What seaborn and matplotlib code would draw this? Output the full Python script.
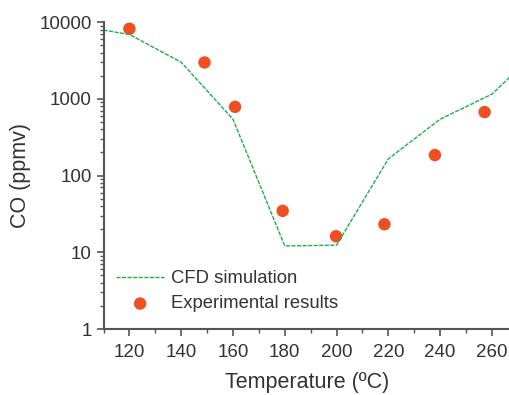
import matplotlib
matplotlib.use("Agg")
import matplotlib.pyplot as plt
import matplotlib.ticker as mticker
import numpy as np
import pandas as pd
import seaborn as sns

# CFD simulation (line)
sim_temp = [110, 120, 140, 160, 180, 200, 220, 240, 260, 270]
sim_co = [7870, 6900, 3000, 543, 12.1, 12.4, 165, 543, 1150, 2400]

# experimental results (points)
exp_temp = [120, 149, 160.8, 179.2, 199.8, 218.5, 238, 257.2]
exp_co = [8190, 2980, 787, 34.7, 16.2, 23.2, 185, 672]

sim = pd.DataFrame({"T": sim_temp, "CO": sim_co})
exp = pd.DataFrame({"T": exp_temp, "CO": exp_co})

sns.set_style("ticks")
plt.rcParams["font.family"] = ["Liberation Sans", "DejaVu Sans"]
txt = "#333333"
spine = "#555555"

fig = plt.figure(figsize=(5.1, 3.95), dpi=100)
ax = fig.add_axes([0.203, 0.167, 0.797, 0.777])

sns.lineplot(data=sim, x="T", y="CO", ax=ax, color="#1fae4b", lw=1.0,
             linestyle=(0, (3, 1)), label="CFD simulation")
sns.scatterplot(data=exp, x="T", y="CO", ax=ax, color="#f04e23", s=80,
                edgecolor="none", label="Experimental results")

ax.set_yscale("log")
ax.set_ylim(1, 10000)
ax.set_xlim(110, 267)
ax.set_xticks([120, 140, 160, 180, 200, 220, 240, 260])
ax.xaxis.set_minor_locator(mticker.MultipleLocator(10))
ax.yaxis.set_major_locator(mticker.LogLocator(base=10, numticks=10))
ax.yaxis.set_major_formatter(mticker.FuncFormatter(lambda v, p: f"{v:g}"))
ax.yaxis.set_minor_locator(mticker.LogLocator(base=10, subs=np.arange(2, 10), numticks=10))
ax.yaxis.set_minor_formatter(mticker.NullFormatter())

sns.despine(ax=ax)
for s in ["left", "bottom"]:
    ax.spines[s].set_color(spine)
    ax.spines[s].set_linewidth(1.5)
ax.tick_params(which="major", length=5, width=1.2, color=spine, labelsize=13.5, labelcolor=txt)
ax.tick_params(axis="x", which="major", pad=6)
ax.tick_params(which="minor", length=3, width=1.0, color=spine)

ax.set_xlabel("Temperature (ºC)", fontsize=15.5, color=txt, labelpad=8)
ax.set_ylabel("CO (ppmv)", fontsize=15.5, color=txt, labelpad=6)

leg = ax.legend(loc="lower left", bbox_to_anchor=(-0.01, 0.0), frameon=False,
                fontsize=13.3, handlelength=2.6, handletextpad=0.35, labelspacing=0.45)
for t in leg.get_texts():
    t.set_color(txt)

fig.savefig("out.png", dpi=100)
